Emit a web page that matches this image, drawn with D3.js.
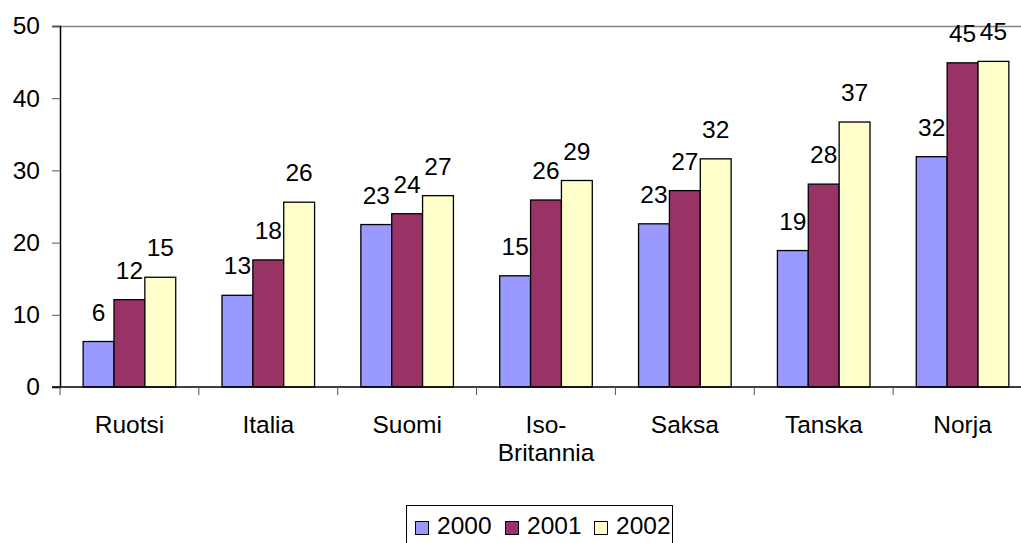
<!DOCTYPE html>
<html>
<head>
<meta charset="utf-8">
<script src="https://cdn.jsdelivr.net/npm/d3@7"></script>
<style>
  body { margin: 0; background: #fff; }
  svg { display: block; }
  text { font-family: "Liberation Sans", Arial, sans-serif; font-size: 24.5px; fill: #000; }
</style>
</head>
<body>
<div id="chart"></div>
<script>
// data
var categories = ["Ruotsi", "Italia", "Suomi", "Iso-Britannia", "Saksa", "Tanska", "Norja"];
var categoryLines = [["Ruotsi"], ["Italia"], ["Suomi"], ["Iso-", "Britannia"], ["Saksa"], ["Tanska"], ["Norja"]];
var seriesNames = ["2000", "2001", "2002"];
var values2000 = [6.3, 12.7, 22.5, 15.4, 22.6, 18.9, 31.9];
var values2001 = [12.1, 17.6, 24.0, 25.9, 27.2, 28.1, 44.9];
var values2002 = [15.2, 25.6, 26.5, 28.6, 31.6, 36.7, 45.1];
var yTicks = [0, 10, 20, 30, 40, 50];
var colors = ["#9999ff", "#993366", "#ffffcc"];

var series = [values2000, values2001, values2002];

var margin = { top: 26, left: 60 },
    width = 972,
    height = 361;

var svg = d3.select("#chart").append("svg")
    .attr("width", 1021)
    .attr("height", 543);

var g = svg.append("g")
    .attr("transform", "translate(" + margin.left + "," + margin.top + ")");

var x0 = d3.scaleBand().domain(categories).range([0, width]).padding(0);
var x1 = d3.scaleBand().domain(seriesNames).range([0, x0.bandwidth()])
    .paddingInner(0).paddingOuter(0.75);
var y = d3.scaleLinear().domain([0, 50]).range([height, 0]);

// top gridline
g.append("line")
    .attr("x1", -8).attr("x2", width)
    .attr("y1", y(50) + 0.5).attr("y2", y(50) + 0.5)
    .attr("stroke", "#808080").attr("stroke-width", 1.5);

// bars
var groups = g.selectAll(".grp")
    .data(categories)
    .enter().append("g")
    .attr("transform", function (d) { return "translate(" + x0(d) + ",0)"; });

groups.each(function (cat, i) {
    var sel = d3.select(this);
    seriesNames.forEach(function (s, j) {
        var v = series[j][i];
        sel.append("rect")
            .attr("x", x1(s))
            .attr("y", y(v))
            .attr("width", x1.bandwidth())
            .attr("height", y(0) - y(v))
            .attr("fill", colors[j])
            .attr("stroke", "#000")
            .attr("stroke-width", 1.3);
        sel.append("text")
            .attr("x", x1(s) + x1.bandwidth() / 2)
            .attr("y", y(v) - 21)
            .attr("text-anchor", "middle")
            .text(Math.round(v));
    });
});

// y axis
var yAxis = g.append("g")
    .call(d3.axisLeft(y).tickValues(yTicks).tickSize(8).tickPadding(12));
yAxis.select(".domain").attr("stroke", "#000").attr("stroke-width", 1.5);
yAxis.selectAll(".tick line").attr("stroke", "#555");
yAxis.selectAll(".tick text").attr("font-family", null);

// x axis
var xAxis = g.append("g")
    .attr("transform", "translate(0," + height + ")");
xAxis.append("line")
    .attr("x1", -8).attr("x2", width)
    .attr("y1", 0).attr("y2", 0)
    .attr("stroke", "#000").attr("stroke-width", 1.5);
xAxis.selectAll(".xtick")
    .data(categories)
    .enter().append("line")
    .attr("x1", function (d) { return x0(d); })
    .attr("x2", function (d) { return x0(d); })
    .attr("y1", 0).attr("y2", 8)
    .attr("stroke", "#555");
xAxis.selectAll(".xlabel")
    .data(categories)
    .enter().append("text")
    .attr("text-anchor", "middle")
    .attr("transform", function (d) { return "translate(" + (x0(d) + x0.bandwidth() / 2) + ",46)"; })
    .each(function (d, i) {
        var t = d3.select(this);
        categoryLines[i].forEach(function (line, k) {
            t.append("tspan").attr("x", 0).attr("dy", k === 0 ? 0 : 28).text(line);
        });
    });

// legend
var legend = svg.append("g").attr("transform", "translate(406,505)");
legend.append("rect")
    .attr("x", 0.5).attr("y", 0.5)
    .attr("width", 266).attr("height", 50)
    .attr("fill", "#fff").attr("stroke", "#000").attr("stroke-width", 1);
var lx = [9, 99, 188];
seriesNames.forEach(function (s, j) {
    legend.append("rect")
        .attr("x", lx[j] + 0.5).attr("y", 16.5)
        .attr("width", 13).attr("height", 13)
        .attr("fill", colors[j]).attr("stroke", "#000").attr("stroke-width", 1);
    legend.append("text")
        .attr("x", lx[j] + 22).attr("y", 29)
        .text(s);
});
</script>
</body>
</html>
